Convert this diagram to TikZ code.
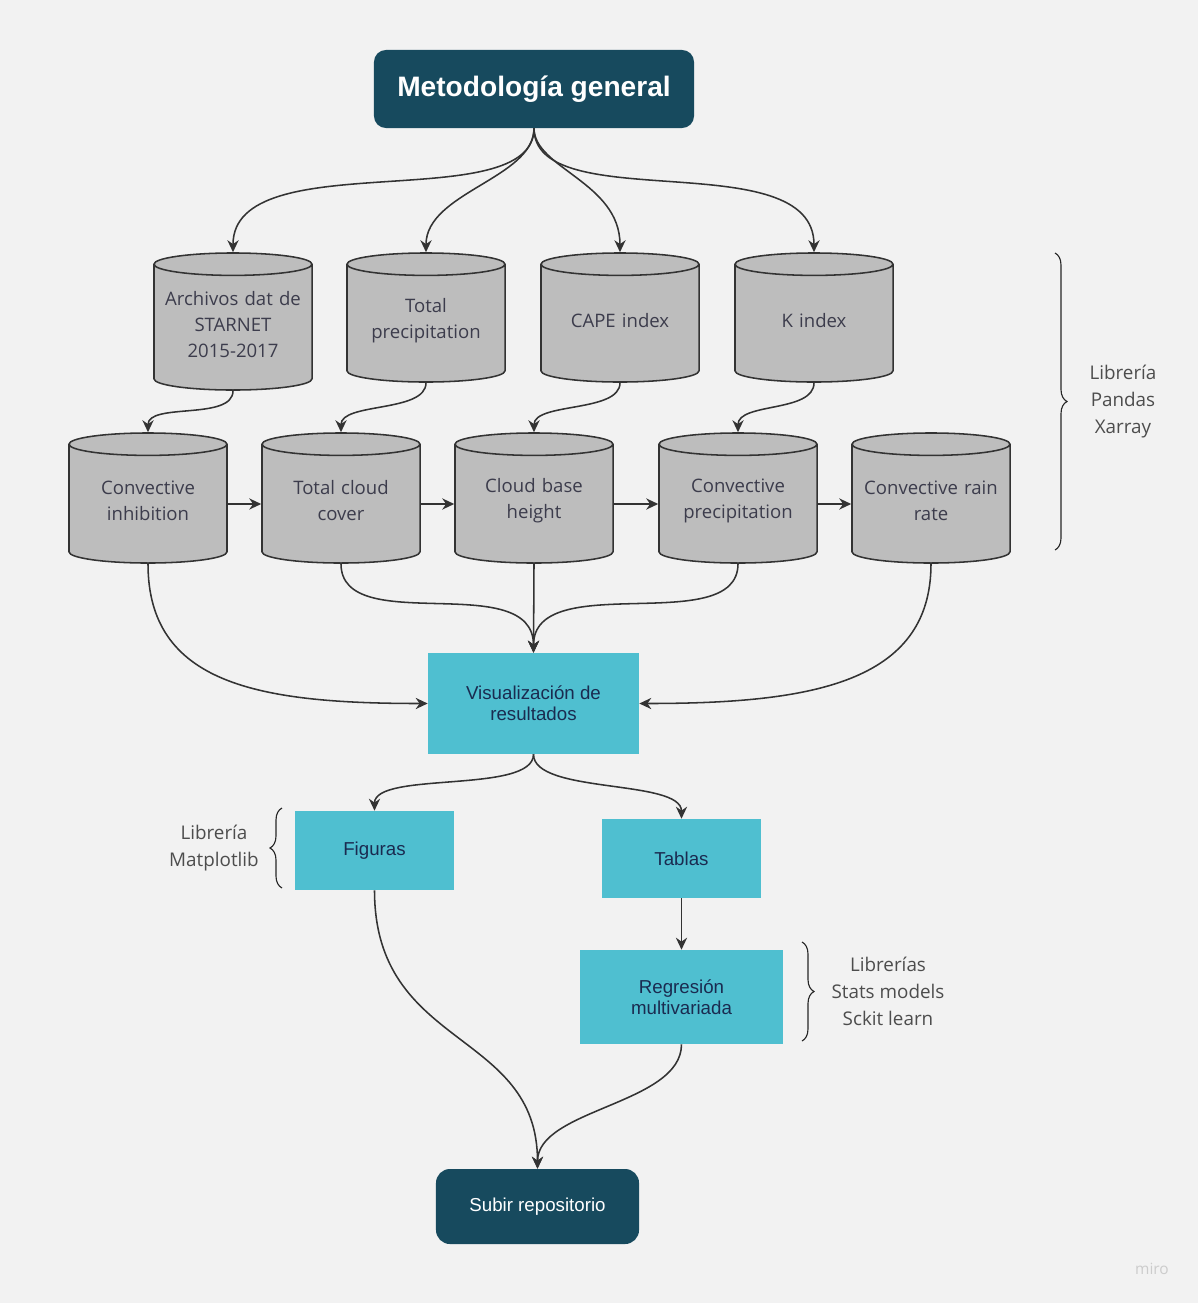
\documentclass[tikz,border=0pt]{standalone}
\usepackage{fontspec}
\setmainfont{Open Sans}
\newfontfamily\arialfont{Liberation Sans}
\usepackage{tikz}
\usetikzlibrary{shapes.geometric, arrows.meta, decorations.pathreplacing}
\usepackage{xcolor}

\definecolor{bgcol}{HTML}{F2F2F2}
\definecolor{darkteal}{HTML}{174A5E}
\definecolor{lightteal}{HTML}{4FBFD0}
\definecolor{cylgray}{HTML}{BDBDBD}
\definecolor{linecol}{HTML}{333333}
\definecolor{cyltext}{HTML}{3C3C4C}
\definecolor{boxtext}{HTML}{1A2B50}
\definecolor{sidetext}{HTML}{4D4D4D}

\newcommand{\cylpad}{\par\kern4.5pt}

\begin{document}
\begin{tikzpicture}[x=0.025cm, y=-0.025cm,
	datacyl/.style={cylinder, shape border rotate=90, aspect=0.16, draw=linecol, line width=1.1pt, fill=cylgray, minimum width=3.95cm, minimum height=3.25cm, text width=3.5cm, align=center, text=cyltext, font=\fontsize{13.2}{18.5}\selectfont, inner sep=0pt, anchor=shape center, execute at end node=\cylpad},
	headbox/.style={rounded corners=0.3cm, fill=darkteal, text=white, align=center, inner sep=0pt},
	stepbox/.style={fill=lightteal, text=boxtext, align=center, inner sep=0pt, font=\arialfont\fontsize{13.3}{15}\selectfont},
	sidelbl/.style={align=center, text=sidetext, font=\fontsize{13.4}{19.2}\selectfont},
	flow/.style={draw=linecol, line width=1.1pt, -{Stealth[length=3mm, width=2.8mm]}},
	sidebrace/.style={draw=black!85, line width=0.8pt, decorate, decoration={brace, amplitude=0.3cm}}]

	\fill[bgcol] (0,0) rectangle (1198,1303);
	\useasboundingbox (0,0) rectangle (1198,1303);

	% title
	\node[headbox, minimum width=8cm, minimum height=1.95cm, font=\arialfont\bfseries\fontsize{20}{24}\selectfont] (title) at (534,89) {Metodología general};

	% first row of data
	\node[datacyl, minimum height=3.425cm] (arch) at (233,321.5) {Archivos dat de\\STARNET\\2015-2017};
	\node[datacyl, minimum height=3.225cm] (tpr) at (426,317.5) {Total\\precipitation};
	\node[datacyl, minimum height=3.225cm] (cape) at (620,317.5) {CAPE index};
	\node[datacyl, minimum height=3.225cm] (kidx) at (814,317.5) {K index};

	% second row of data
	\node[datacyl] (cin) at (148,498) {Convective\\inhibition};
	\node[datacyl] (tcc) at (341,498) {Total cloud\\cover};
	\node[datacyl] (cbh) at (534,498) {Cloud base\\height};
	\node[datacyl] (cpr) at (738,498) {Convective\\precipitation};
	\node[datacyl] (crr) at (931,498) {Convective rain\\rate};

	% processing
	\node[stepbox, minimum width=5.275cm, minimum height=2.525cm] (vis) at (533.5,703.5) {Visualización de\\resultados};
	\node[stepbox, minimum width=3.975cm, minimum height=1.975cm] (fig) at (374.5,850.5) {Figuras};
	\node[stepbox, minimum width=3.975cm, minimum height=1.975cm] (tab) at (681.5,858.5) {Tablas};
	\node[stepbox, minimum width=5.075cm, minimum height=2.35cm] (reg) at (681.5,997) {Regresión\\multivariada};
	\node[headbox, minimum width=5.075cm, minimum height=1.875cm, rounded corners=0.35cm, font=\arialfont\fontsize{13.3}{16}\selectfont] (sub) at (537.5,1206.5) {Subir repositorio};

	% libraries
	\node[sidelbl] (pandas) at (1123,402) {Librería\\Pandas\\Xarray};
	\node[sidelbl] (mpl) at (214,848) {Librería\\Matplotlib};
	\node[sidelbl] (stats) at (888,991) {Librerías\\Stats models\\Sckit learn};
	\draw[sidebrace] (1055,253) -- (1055,550);
	\draw[sidebrace] (282,888) -- (282,808);
	\draw[sidebrace] (802,942) -- (802,1041);

	\node[text=black!20, font=\fontsize{11}{13}\selectfont] (miro) at (1152,1269) {miro};

	% title to first row
	\draw[flow] (title.south) .. controls +(0,90) and +(0,-110) .. (arch.north);
	\draw[flow] (title.south) .. controls +(0,50) and +(0,-60) .. (tpr.north);
	\draw[flow] (title.south) .. controls +(0,40) and +(0,-70) .. (cape.north);
	\draw[flow] (title.south) .. controls +(0,90) and +(0,-110) .. (kidx.north);

	% first row to second row
	\draw[flow] (arch.south) .. controls +(0,30) and +(0,-30) .. (cin.north);
	\draw[flow] (tpr.south) .. controls +(0,30) and +(0,-30) .. (tcc.north);
	\draw[flow] (cape.south) .. controls +(0,30) and +(0,-30) .. (cbh.north);
	\draw[flow] (kidx.south) .. controls +(0,30) and +(0,-30) .. (cpr.north);

	\draw[flow] (cin.east) -- (tcc.west);
	\draw[flow] (tcc.east) -- (cbh.west);
	\draw[flow] (cbh.east) -- (cpr.west);
	\draw[flow] (cpr.east) -- (crr.west);

	% second row to visualisation
	\draw[flow] (cin.south) .. controls +(0,120) and +(-170,0) .. (vis.west);
	\draw[flow] (tcc.south) .. controls +(0,75) and +(0,-85) .. (vis.north);
	\draw[flow] (cbh.south) -- (vis.north);
	\draw[flow] (cpr.south) .. controls +(0,75) and +(0,-85) .. (vis.north);
	\draw[flow] (crr.south) .. controls +(0,120) and +(170,0) .. (vis.east);

	\draw[flow] (vis.south) .. controls +(0,40) and +(0,-40) .. (fig.north);
	\draw[flow] (vis.south) .. controls +(0,40) and +(0,-40) .. (tab.north);
	\draw[flow] (tab.south) -- (reg.north);
	\draw[flow] (fig.south) .. controls +(0,160) and +(0,-140) .. (sub.north);
	\draw[flow] (reg.south) .. controls +(0,60) and +(0,-60) .. (sub.north);
\end{tikzpicture}
\end{document}
